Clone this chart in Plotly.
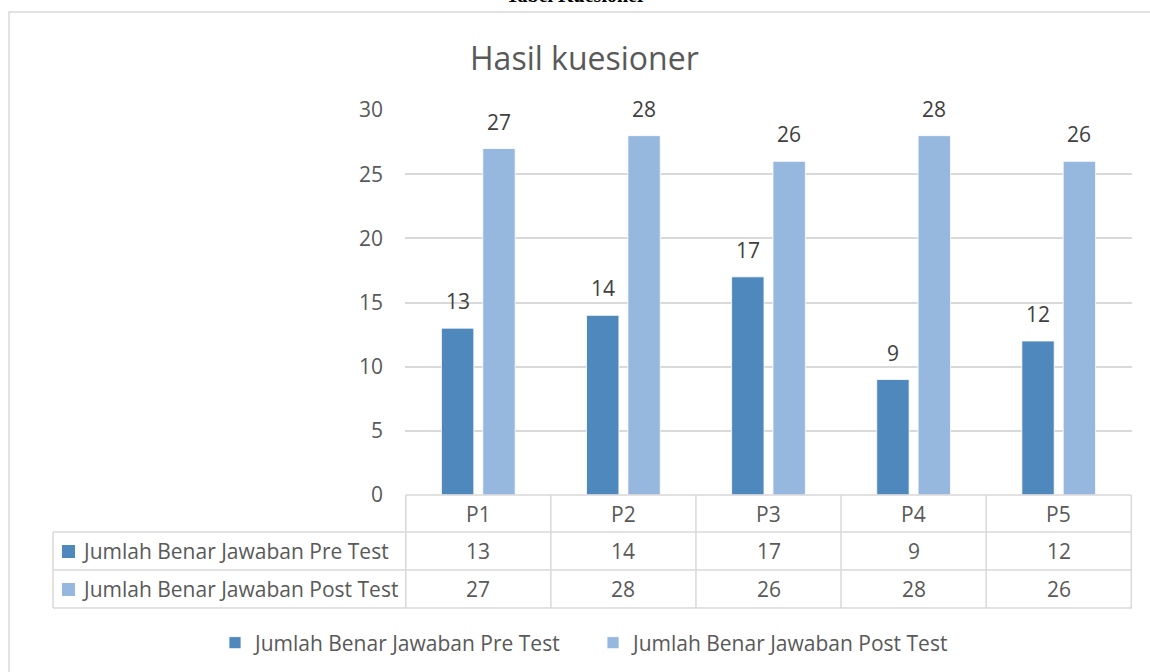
import plotly.graph_objects as go

categories = ["P1", "P2", "P3", "P4", "P5"]
series_names = ["Jumlah Benar Jawaban Pre Test", "Jumlah Benar Jawaban Post Test"]
pre_test = [13, 14, 17, 9, 12]
post_test = [27, 28, 26, 28, 26]
series_values = [pre_test, post_test]
series_colors = ["#4F88BC", "#96B8DF"]
y_ticks = [0, 5, 10, 15, 20, 25, 30]
chart_title = "Hasil kuesioner"
page_caption = "Tabel Kuesioner"

W, H = 1150, 672
FONT = "Open Sans"
GRID = "#D9D9D9"
TXT = "#595959"


def px(x):
    return x / W


def py(y):
    return 1 - y / H


fig = go.Figure()
for name, vals, col in zip(series_names, series_values, series_colors):
    fig.add_trace(go.Bar(
        x=categories, y=vals, name=name,
        marker=dict(color=col, line=dict(color="white", width=0.8)),
    ))

shapes = []
annotations = []

# chart outer border
shapes.append(dict(type="rect", xref="paper", yref="paper",
                   x0=px(9), x1=1.02, y0=-0.02, y1=py(12),
                   line=dict(color=GRID, width=1.5), layer="below"))

# data labels above bars
shifts = [-20.6, 20.6]
for vals, sh in zip(series_values, shifts):
    for c, v in zip(categories, vals):
        annotations.append(dict(x=c, y=v, xref="x", yref="y", text=str(v),
                                showarrow=False, xshift=sh, yshift=27,
                                yanchor="middle",
                                font=dict(family=FONT, size=21, color="#404040")))

# data table
row_tops = [495, 532, 570, 608]
left = 53
n = len(categories)
shapes.append(dict(type="line", xref="x", yref="paper", x0=-0.5, x1=n - 0.5,
                   y0=py(row_tops[0]), y1=py(row_tops[0]),
                   line=dict(color=GRID, width=1.5)))
for yy in row_tops[1:]:
    shapes.append(dict(type="line", xref="paper", yref="paper",
                       x0=px(left), x1=px(1132), y0=py(yy), y1=py(yy),
                       line=dict(color=GRID, width=1.5)))
shapes.append(dict(type="line", xref="paper", yref="paper", x0=px(left), x1=px(left),
                   y0=py(row_tops[1]), y1=py(row_tops[3]),
                   line=dict(color=GRID, width=1.5)))
for i in range(n + 1):
    shapes.append(dict(type="line", xref="x", yref="paper", x0=i - 0.5, x1=i - 0.5,
                       y0=py(row_tops[0]), y1=py(row_tops[3]),
                       line=dict(color=GRID, width=1.5)))
for c in categories:
    annotations.append(dict(x=c, y=py((row_tops[0] + row_tops[1]) / 2), xref="x", yref="paper",
                            text=c, showarrow=False, yanchor="middle",
                            font=dict(family=FONT, size=21, color=TXT)))
for r, (name, vals, col) in enumerate(zip(series_names, series_values, series_colors)):
    yc = (row_tops[r + 1] + row_tops[r + 2]) / 2
    for c, v in zip(categories, vals):
        annotations.append(dict(x=c, y=py(yc), xref="x", yref="paper", text=str(v),
                                showarrow=False, yanchor="middle",
                                font=dict(family=FONT, size=21, color=TXT)))
    shapes.append(dict(type="rect", xref="paper", yref="paper",
                       x0=px(62), x1=px(75), y0=py(yc + 7), y1=py(yc - 6),
                       fillcolor=col, line=dict(width=0)))
    annotations.append(dict(x=px(80), y=py(yc), xref="paper", yref="paper", text=name,
                            showarrow=False, xanchor="left", yanchor="middle",
                            font=dict(family=FONT, size=21, color=TXT)))

# title
annotations.append(dict(x=px(585), y=py(57), xref="paper", yref="paper", text=chart_title,
                        showarrow=False, yanchor="middle",
                        font=dict(family=FONT, size=32, color=TXT)))
# page caption above the chart, cut off by the top edge as in the source image
annotations.append(dict(x=px(576), y=py(-5), xref="paper", yref="paper",
                        text="<b>" + page_caption + "</b>", showarrow=False,
                        yanchor="middle",
                        font=dict(family="Liberation Serif", size=20, color="#000000")))

fig.update_layout(
    width=W, height=H,
    margin=dict(l=0, r=0, t=0, b=0),
    paper_bgcolor="white", plot_bgcolor="white",
    barmode="group", bargap=0.43, bargroupgap=0.217,
    font=dict(family=FONT, size=21, color=TXT),
    shapes=shapes, annotations=annotations,
    showlegend=True,
    legend=dict(orientation="h", x=px(215), xanchor="left", y=py(643), yanchor="middle",
                entrywidth=333, entrywidthmode="pixels",
                font=dict(family=FONT, size=21, color=TXT),
                bgcolor="rgba(0,0,0,0)"),
    xaxis=dict(domain=[px(405), px(1132)], showticklabels=False, showgrid=False,
               zeroline=False, showline=False, ticks="", automargin=False),
    yaxis=dict(domain=[py(495), py(110)], range=[0, 30], tickvals=y_ticks,
               showgrid=True, gridcolor=GRID, gridwidth=1.5, zeroline=False,
               showline=False, ticks="", ticklabelstandoff=21, automargin=False,
               tickfont=dict(family=FONT, size=21, color=TXT)),
)

fig.write_html("out.html", config={"displayModeBar": False},
               post_script="document.body.style.margin='0';document.body.style.overflow='hidden';")
